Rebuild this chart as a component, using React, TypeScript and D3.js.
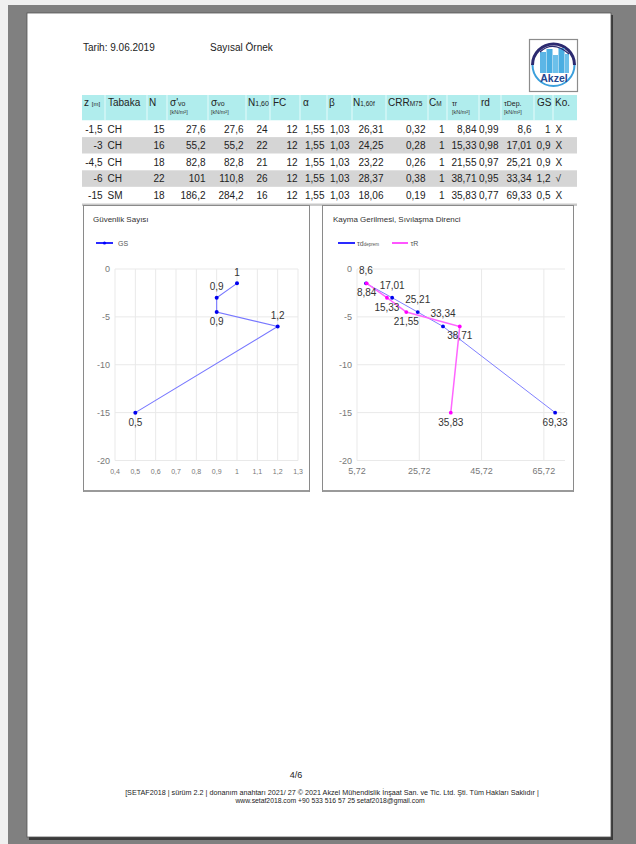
import React from "react";
import * as d3 from "d3";

// ---------- data ----------
const zVals = [-1.5, -3, -4.5, -6, -15];
const tabaka = ["CH", "CH", "CH", "CH", "SM"];
const nVals = [15, 16, 18, 22, 18];
const sigEff = [27.6, 55.2, 82.8, 101, 186.2];
const sigTot = [27.6, 55.2, 82.8, 110.8, 284.2];
const n160 = [24, 22, 21, 26, 16];
const fcVals = [12, 12, 12, 12, 12];
const alphaVals = [1.55, 1.55, 1.55, 1.55, 1.55];
const betaVals = [1.03, 1.03, 1.03, 1.03, 1.03];
const n160f = [26.31, 24.25, 23.22, 28.37, 18.06];
const crrVals = [0.32, 0.28, 0.26, 0.38, 0.19];
const cmVals = [1, 1, 1, 1, 1];
const tauR = [8.84, 15.33, 21.55, 38.71, 35.83];
const rdVals = [0.99, 0.98, 0.97, 0.95, 0.77];
const tauDep = [8.6, 17.01, 25.21, 33.34, 69.33];
const gsVals = [1, 0.9, 0.9, 1.2, 0.5];
const koVals = ["X", "X", "X", "√", "X"];

const gsLabelBelow = [false, false, true, false, true];
const depLabelBelow = [false, false, false, false, true];

const gsTicks = [0.4, 0.5, 0.6, 0.7, 0.8, 0.9, 1, 1.1, 1.2, 1.3];
const tauTicks = [5.72, 25.72, 45.72, 65.72];
const depthTicks = [0, -5, -10, -15, -20];

const FONT = "'Liberation Sans', Arial, Helvetica, sans-serif";
const fmt = (v: number) => String(v).replace(".", ",");
const fmt1 = (v: number) => String(+v.toFixed(2)).replace(".", ",");

// table columns: boundaries
const colEdges = [82, 105, 147, 167, 208, 246, 270, 300, 327, 352, 386, 428, 447, 479, 501, 534, 553, 577];

export default function App() {
  const rowTop = 120.5;
  const rowH = 16.6;

  const columns: { vals: (string | number)[]; align: "start" | "end" }[] = [
    { vals: zVals, align: "end" },
    { vals: tabaka, align: "start" },
    { vals: nVals, align: "end" },
    { vals: sigEff, align: "end" },
    { vals: sigTot, align: "end" },
    { vals: n160, align: "end" },
    { vals: fcVals, align: "end" },
    { vals: alphaVals, align: "end" },
    { vals: betaVals, align: "end" },
    { vals: n160f, align: "end" },
    { vals: crrVals, align: "end" },
    { vals: cmVals, align: "end" },
    { vals: tauR, align: "end" },
    { vals: rdVals, align: "end" },
    { vals: tauDep, align: "end" },
    { vals: gsVals, align: "end" },
    { vals: koVals, align: "start" },
  ];

  // charts
  const yScale = d3.scaleLinear().domain([0, -20]).range([269, 460.5]);
  const xGS = d3.scaleLinear().domain([0.4, 1.3]).range([115, 298]);
  const xT = d3.scaleLinear().domain([5.72, 72.5]).range([357, 565]);

  const gsPts: [number, number][] = gsVals.map((v, i) => [xGS(v), yScale(zVals[i])]);
  const depPts: [number, number][] = tauDep.map((v, i) => [xT(v), yScale(zVals[i])]);
  const rPts: [number, number][] = tauR.map((v, i) => [xT(v), yScale(zVals[i])]);
  const line = d3.line();

  const hdr = { fontSize: 10, fill: "#222" };
  const sub = { fontSize: 5.5, fill: "#333" };

  return (
    <svg
      width={636}
      height={844}
      style={{ position: "absolute", left: 0, top: 0, fontFamily: FONT }}
    >
      {/* background */}
      <rect x={0} y={0} width={636} height={844} fill="#f0f0f0" />
      <rect x={8} y={5} width={628} height={839} fill="#808080" />
      {/* page shadow + page */}
      <rect x={29} y={15} width={584} height={825} fill="#3a3a3a" />
      <rect x={27} y={13} width={584} height={824} fill="#ffffff" stroke="#555" strokeWidth={0.8} />

      {/* header */}
      <text x={83} y={51} fontSize={10} fill="#222">Tarih: 9.06.2019</text>
      <text x={210} y={51} fontSize={10} fill="#222">Sayısal Örnek</text>

      {/* logo */}
      <g>
        <rect x={529.5} y={39.5} width={48} height={52} fill="#fff" stroke="#8c8c8c" strokeWidth={1.2} />
        <circle cx={553.5} cy={65} r={21} fill="#fff" />
        <path d="M 532.5 65 A 21 21 0 0 1 574.5 65" fill="none" stroke="#2c2a70" strokeWidth={3} />
        <path d="M 532.5 65 A 21 21 0 0 0 574.5 65" fill="none" stroke="#3a9fdc" strokeWidth={2} />
        <rect x={540} y={52} width={6} height={21} fill="#5cb6e6" />
        <rect x={546.5} y={49} width={6} height={24} fill="#4aaee2" />
        <rect x={553} y={55} width={5} height={18} fill="#6cc0ea" />
        <rect x={558.5} y={48} width={6} height={25} fill="#4aaee2" />
        <rect x={565} y={54} width={4} height={19} fill="#6cc0ea" />
        <path d="M 540 52 Q 553 40 569 54" fill="none" stroke="#2c2a70" strokeWidth={1.2} />
        <text x={554} y={82} fontSize={10.5} fontWeight="bold" textAnchor="middle" fill="#24458f">Akzel</text>
      </g>

      {/* table header */}
      <rect x={82} y={95} width={495} height={25.5} fill="#b0eded" />
      {colEdges.slice(1, -1).map((e, i) => (
        <line key={i} x1={e} x2={e} y1={95} y2={120.5} stroke="#e6fbfb" strokeWidth={1} />
      ))}
      <g>
        <text x={84} y={106} {...hdr}>z <tspan fontSize={6}>[m]</tspan></text>
        <text x={108} y={106} {...hdr}>Tabaka</text>
        <text x={149} y={106} {...hdr}>N</text>
        <text x={170} y={106} {...hdr}>σ'<tspan fontSize={7}>vo</tspan></text>
        <text x={170} y={114} {...sub}>[kN/m²]</text>
        <text x={211} y={106} {...hdr}>σ<tspan fontSize={7}>vo</tspan></text>
        <text x={211} y={114} {...sub}>[kN/m²]</text>
        <text x={248} y={106} {...hdr}>N<tspan fontSize={7}>1,60</tspan></text>
        <text x={273} y={106} {...hdr}>FC</text>
        <text x={303} y={106} {...hdr}>α</text>
        <text x={329} y={106} {...hdr}>β</text>
        <text x={353} y={106} {...hdr}>N<tspan fontSize={6.5}>1,60f</tspan></text>
        <text x={388} y={106} {...hdr}>CRR<tspan fontSize={6.5}>M75</tspan></text>
        <text x={429} y={106} {...hdr}>C<tspan fontSize={6.5}>M</tspan></text>
        <text x={452} y={106} fontSize={7} fill="#222">τr</text>
        <text x={452} y={114} {...sub}>[kN/m²]</text>
        <text x={481} y={106} {...hdr}>rd</text>
        <text x={504} y={106} fontSize={7} fill="#222">τDep.</text>
        <text x={504} y={114} {...sub}>[kN/m²]</text>
        <text x={537} y={106} {...hdr}>GS</text>
        <text x={555} y={106} {...hdr}>Ko.</text>
      </g>

      {/* table rows */}
      {zVals.map((_, r) => (
        <rect key={r} x={82} y={rowTop + r * rowH} width={495} height={rowH} fill={r % 2 === 1 ? "#d5d5d5" : "#ffffff"} />
      ))}
      <rect x={82} y={rowTop + 5 * rowH} width={495} height={2.5} fill="#c9c9c9" />
      {columns.map((c, ci) =>
        c.vals.map((v, r) => {
          const x = c.align === "end" ? colEdges[ci + 1] - 2.5 : colEdges[ci] + 2.5;
          const t = typeof v === "number" ? fmt(v) : v;
          return (
            <text key={ci + "-" + r} x={x} y={rowTop + r * rowH + 12} fontSize={10} fill="#222" textAnchor={c.align}>
              {t}
            </text>
          );
        })
      )}

      {/* ---------- left chart ---------- */}
      <rect x={83.5} y={205.5} width={226} height={286} fill="#fff" stroke="#8a8a8a" strokeWidth={1} />
      <line x1={83.5} x2={309.5} y1={491} y2={491} stroke="#9a9a9a" strokeWidth={2} />
      <text x={93} y={222} fontSize={8} fill="#333">Güvenlik Sayısı</text>
      <line x1={96} x2={113} y1={243} y2={243} stroke="#2a2aff" strokeWidth={2} />
      <circle cx={104.5} cy={243} r={1.6} fill="#0000ff" />
      <text x={118} y={245.5} fontSize={7} fill="#555">GS</text>

      {gsTicks.map((t, i) => (
        <line key={"gv" + i} x1={xGS(t)} x2={xGS(t)} y1={yScale(0)} y2={yScale(-20)} stroke="#e9e9e9" strokeWidth={1} />
      ))}
      {depthTicks.map((t, i) => (
        <line key={"gh" + i} x1={xGS(0.4)} x2={xGS(1.3)} y1={yScale(t)} y2={yScale(t)} stroke="#e9e9e9" strokeWidth={1} />
      ))}
      {depthTicks.map((t, i) => (
        <text key={"gy" + i} x={110} y={yScale(t) + 3.2} fontSize={9} fill="#777" textAnchor="end">{fmt(t)}</text>
      ))}
      {gsTicks.map((t, i) => (
        <text key={"gx" + i} x={xGS(t)} y={474} fontSize={7} fill="#777" textAnchor="middle">{fmt1(t)}</text>
      ))}
      <path d={line(gsPts) || ""} fill="none" stroke="#7777ff" strokeWidth={1.1} />
      {gsPts.map((p, i) => (
        <circle key={"gp" + i} cx={p[0]} cy={p[1]} r={2} fill="#0000ee" />
      ))}
      {gsPts.map((p, i) => (
        <text key={"gl" + i} x={p[0]} y={gsLabelBelow[i] ? p[1] + 13 : p[1] - 7.5} fontSize={10} fill="#333" textAnchor="middle">
          {fmt(gsVals[i])}
        </text>
      ))}

      {/* ---------- right chart ---------- */}
      <rect x={322.5} y={205.5} width={251} height={286} fill="#fff" stroke="#8a8a8a" strokeWidth={1} />
      <line x1={322.5} x2={573.5} y1={491} y2={491} stroke="#9a9a9a" strokeWidth={2} />
      <text x={333} y={222} fontSize={8} fill="#333">Kayma Gerilmesi, Sıvılaşma Direnci</text>
      <line x1={338} x2={355} y1={243} y2={243} stroke="#2a2aff" strokeWidth={2} />
      <text x={357} y={245.5} fontSize={7} fill="#555">τd<tspan fontSize={4.5}>deprem</tspan></text>
      <line x1={392} x2={408} y1={243} y2={243} stroke="#ff55ff" strokeWidth={2} />
      <text x={410.5} y={245.5} fontSize={7} fill="#555">τR</text>

      {tauTicks.map((t, i) => (
        <line key={"tv" + i} x1={xT(t)} x2={xT(t)} y1={yScale(0)} y2={yScale(-20)} stroke="#e9e9e9" strokeWidth={1} />
      ))}
      {depthTicks.map((t, i) => (
        <line key={"th" + i} x1={357} x2={565} y1={yScale(t)} y2={yScale(t)} stroke="#e9e9e9" strokeWidth={1} />
      ))}
      {depthTicks.map((t, i) => (
        <text key={"ty" + i} x={352} y={yScale(t) + 3.2} fontSize={9} fill="#777" textAnchor="end">{fmt(t)}</text>
      ))}
      {tauTicks.map((t, i) => (
        <text key={"tx" + i} x={xT(t)} y={474} fontSize={9} fill="#777" textAnchor="middle">{fmt(t)}</text>
      ))}
      <path d={line(depPts) || ""} fill="none" stroke="#8080ff" strokeWidth={1} />
      <path d={line(rPts) || ""} fill="none" stroke="#ff66ff" strokeWidth={1.5} />
      {depPts.map((p, i) => (
        <circle key={"dp" + i} cx={p[0]} cy={p[1]} r={1.9} fill="#0000ee" />
      ))}
      {rPts.map((p, i) => (
        <circle key={"rp" + i} cx={p[0]} cy={p[1]} r={1.9} fill="#ff00ff" />
      ))}
      {depPts.map((p, i) => (
        <text key={"dl" + i} x={p[0]} y={depLabelBelow[i] ? p[1] + 13 : p[1] - 9} fontSize={10} fill="#333" textAnchor="middle">
          {fmt(tauDep[i])}
        </text>
      ))}
      {rPts.map((p, i) => (
        <text key={"rl" + i} x={p[0]} y={p[1] + 13} fontSize={10} fill="#333" textAnchor="middle">
          {fmt(tauR[i])}
        </text>
      ))}

      {/* footer */}
      <text x={296} y={778} fontSize={9} fill="#222" textAnchor="middle">4/6</text>
      <text x={332} y={795} fontSize={7.2} fill="#222" textAnchor="middle">
        [SETAF2018 | sürüm 2.2 | donanım anahtarı  2021/ 27 © 2021 Akzel Mühendislik İnşaat San. ve Tic. Ltd. Şti. Tüm Hakları Saklıdır |
      </text>
      <text x={330} y={803} fontSize={6.8} fill="#222" textAnchor="middle">
        www.setaf2018.com +90 533 516 57 25 setaf2018@gmail.com
      </text>
    </svg>
  );
}
